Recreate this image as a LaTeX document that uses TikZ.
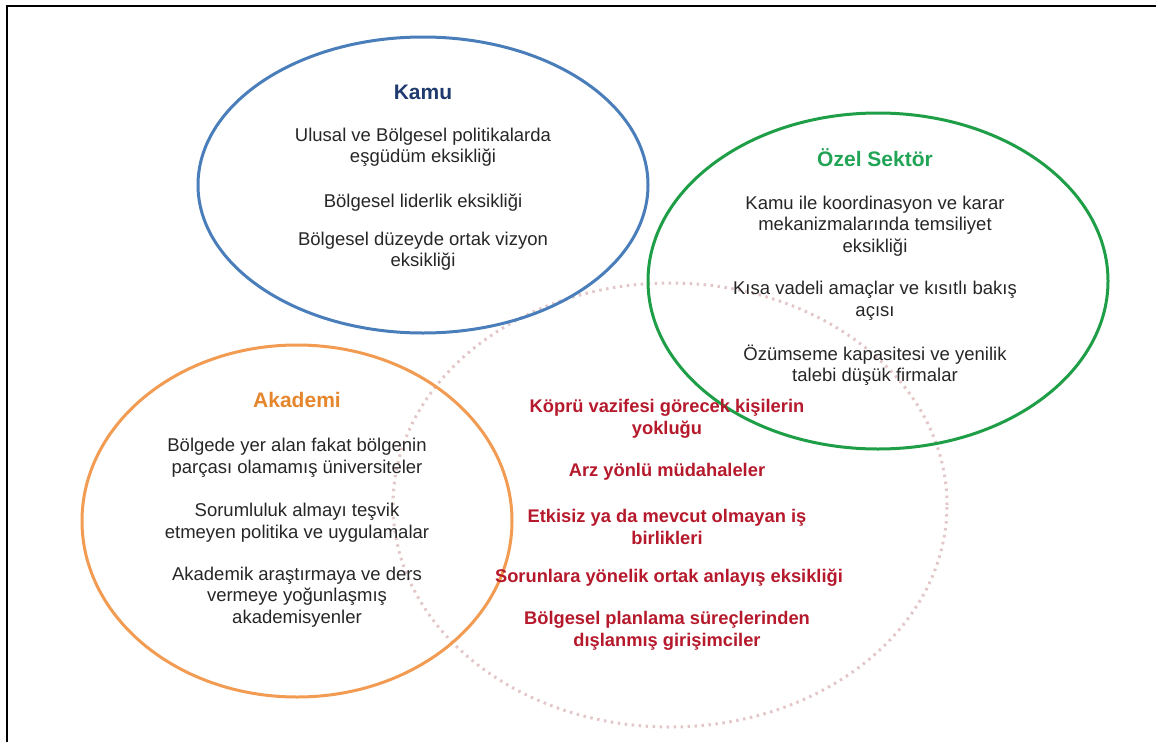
\documentclass[tikz,border=0pt]{standalone}
\usepackage{fontspec}
\setmainfont{Liberation Sans}
\definecolor{kamuline}{HTML}{4A7EBB}
\definecolor{kamutitle}{HTML}{1F3A6E}
\definecolor{ozelline}{HTML}{1E9E46}
\definecolor{ozeltitle}{HTML}{21A455}
\definecolor{akline}{HTML}{F29B52}
\definecolor{aktitle}{HTML}{E5862C}
\definecolor{ortakred}{HTML}{B5192B}
\definecolor{noktali}{HTML}{E3C6C8}
\definecolor{metin}{HTML}{262626}
\begin{document}
\begin{tikzpicture}[x=1pt,y=-1pt,
	baslik/.style={font=\fontsize{21}{24}\selectfont\bfseries,inner sep=0pt},
	madde/.style={font=\fontsize{18.5}{21.5}\selectfont,text=metin,align=center,inner sep=0pt},
	ortak/.style={font=\fontsize{18.3}{22}\selectfont\bfseries,text=ortakred,align=center,inner sep=0pt}]
	\useasboundingbox (0,0) rectangle (1156,742);
	\draw[line width=2pt] (7,742)--(7,6)--(1156,6);
	% ortak alan (noktali)
	\draw[noktali,line width=3pt,dash pattern=on 2.5pt off 4.5pt] (670,505) ellipse[x radius=277pt,y radius=222pt];
	\draw[kamuline,line width=3pt] (423,185) ellipse[x radius=225pt,y radius=148pt];
	\draw[ozelline,line width=3pt] (878,281) ellipse[x radius=230pt,y radius=168pt];
	\draw[akline,line width=3pt] (297,521) ellipse[x radius=215pt,y radius=176pt];
	% Kamu
	\node[baslik,text=kamutitle] (kamu) at (423,92) {Kamu};
	\node[madde] (kamu1) at (423,147.5) {Ulusal ve Bölgesel politikalarda\\eşgüdüm eksikliği};
	\node[madde] (kamu2) at (423,203) {Bölgesel liderlik eksikliği};
	\node[madde] (kamu3) at (423,251) {Bölgesel düzeyde ortak vizyon\\eksikliği};
	% Ozel Sektor
	\node[baslik,text=ozeltitle] (ozel) at (875,158) {Özel Sektör};
	\node[madde] (ozel1) at (875,226) {Kamu ile koordinasyon ve karar\\mekanizmalarında temsiliyet\\eksikliği};
	\node[madde] (ozel2) at (875,301) {Kısa vadeli amaçlar ve kısıtlı bakış\\açısı};
	\node[madde] (ozel3) at (875,365) {Özümseme kapasitesi ve yenilik\\talebi düşük firmalar};
	% Akademi
	\node[baslik,text=aktitle] (akademi) at (297,400) {Akademi};
	\node[madde] (ak1) at (297,457.5) {Bölgede yer alan fakat bölgenin\\parçası olamamış üniversiteler};
	\node[madde] (ak2) at (297,522.5) {Sorumluluk almayı teşvik\\etmeyen politika ve uygulamalar};
	\node[madde] (ak3) at (297,597) {Akademik araştırmaya ve ders\\vermeye yoğunlaşmış\\akademisyenler};
	% ortak sorunlar
	\node[ortak] (or1) at (667,419) {Köprü vazifesi görecek kişilerin\\yokluğu};
	\node[ortak] (or2) at (667,472) {Arz yönlü müdahaleler};
	\node[ortak] (or3) at (667,526.5) {Etkisiz ya da mevcut olmayan iş\\birlikleri};
	\node[ortak] (or4) at (669,578) {Sorunlara yönelik ortak anlayış eksikliği};
	\node[ortak] (or5) at (667,631) {Bölgesel planlama süreçlerinden\\dışlanmış girişimciler};
\end{tikzpicture}
\end{document}
